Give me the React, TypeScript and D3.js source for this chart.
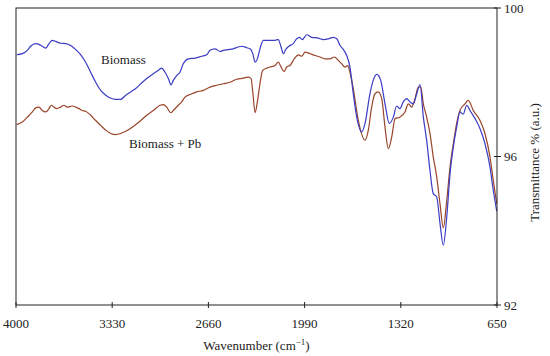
import React from "react";
import * as d3 from "d3";

// wavenumber (cm-1) and transmittance (%)
const waveBiomass = [
  3995, 3956, 3921, 3898, 3863, 3840, 3817, 3793, 3770, 3747,
  3724, 3689, 3654, 3619, 3584, 3549, 3515, 3480, 3445, 3410,
  3375, 3340, 3306, 3271, 3236, 3201, 3166, 3120, 3090, 3044,
  3009, 2985, 2962, 2939, 2920, 2904, 2881, 2858, 2835, 2800,
  2753, 2707, 2672, 2649, 2614, 2579, 2556, 2521, 2487, 2452,
  2428, 2393, 2370, 2351, 2335, 2319, 2301, 2278, 2254, 2231,
  2196, 2173, 2154, 2138, 2122, 2099, 2069, 2045, 2027, 2006,
  1975, 1941, 1895, 1860, 1825, 1790, 1766, 1743, 1720, 1697,
  1674, 1651, 1627, 1592, 1569, 1535, 1512, 1488, 1460, 1430,
  1400, 1372, 1349, 1326, 1303, 1279, 1256, 1233, 1209, 1186,
  1163, 1140, 1117, 1094, 1070, 1047, 1024, 1000, 977, 954,
  931, 908, 885, 861, 838, 803, 768, 734, 699, 676, 652,
];
const transBiomass = [
  98.74, 98.77, 98.86, 98.97, 99.04, 99.02, 98.97, 98.92, 99.04, 99.13,
  99.1, 99.05, 99.04, 98.99, 98.88, 98.74, 98.54, 98.27, 98.0, 97.78,
  97.65, 97.57, 97.54, 97.54, 97.65, 97.74, 97.83, 98.0, 98.1, 98.23,
  98.32, 98.38, 98.27, 98.1, 97.93, 98.05, 98.18, 98.27, 98.5, 98.63,
  98.65, 98.7, 98.74, 98.86, 98.9, 98.83, 98.86, 98.88, 98.9, 98.95,
  98.97, 98.93, 98.9, 98.77, 98.54, 98.63, 98.9, 99.13, 99.13, 99.13,
  99.13, 99.15, 98.95, 98.77, 98.88, 98.97, 99.04, 99.17, 99.21, 99.15,
  99.28, 99.21, 99.19, 99.15, 99.17, 99.21, 99.17, 98.99, 98.88, 98.72,
  98.41, 97.69, 97.06, 96.66, 96.89, 97.69, 98.05, 98.21, 98.05, 97.42,
  96.89, 97.06, 97.36, 97.29, 97.47, 97.56, 97.47, 97.42, 97.69, 97.94,
  97.06, 96.44, 95.63, 95.0, 94.91, 94.2, 93.61, 94.37, 95.54, 96.26,
  96.79, 97.2, 97.14, 97.38, 97.24, 97.02, 96.75, 96.35, 95.72, 95.09, 94.53,
];

const wavePb = [
  3995, 3956, 3921, 3886, 3863, 3840, 3817, 3793, 3770, 3754,
  3735, 3717, 3689, 3666, 3643, 3608, 3584, 3561, 3538, 3515,
  3480, 3445, 3410, 3375, 3340, 3306, 3271, 3236, 3190, 3143,
  3090, 3044, 2997, 2974, 2950, 2923, 2904, 2870, 2846, 2823,
  2788, 2741, 2696, 2649, 2602, 2556, 2510, 2463, 2417, 2382,
  2363, 2351, 2335, 2319, 2301, 2282, 2254, 2231, 2196, 2173,
  2154, 2133, 2115, 2092, 2062, 2034, 2010, 1987, 1952, 1918,
  1883, 1848, 1813, 1783, 1755, 1732, 1709, 1690, 1674, 1651,
  1616, 1569, 1546, 1523, 1500, 1477, 1453, 1430, 1407, 1383,
  1360, 1326, 1291, 1268, 1244, 1221, 1198, 1181, 1163, 1140,
  1117, 1094, 1070, 1047, 1024, 1000, 977, 954, 931, 908,
  873, 850, 815, 768, 734, 699, 676, 652,
];
const transPb = [
  96.86, 96.93, 97.06, 97.2, 97.31, 97.33, 97.24, 97.2, 97.29, 97.38,
  97.33, 97.29, 97.33, 97.38, 97.33, 97.36, 97.33, 97.29, 97.24, 97.22,
  97.11, 96.97, 96.84, 96.71, 96.62, 96.59, 96.62, 96.68, 96.79, 96.93,
  97.11, 97.24, 97.38, 97.4, 97.33, 97.18, 97.24, 97.38, 97.47, 97.6,
  97.67, 97.74, 97.78, 97.87, 97.92, 97.96, 98.0, 98.08, 98.11, 98.14,
  98.1, 97.74, 97.18, 97.47, 97.96, 98.32, 98.38, 98.41, 98.45, 98.54,
  98.41, 98.29, 98.41, 98.45, 98.63, 98.74, 98.7, 98.81, 98.77, 98.72,
  98.68, 98.63, 98.63, 98.68, 98.59, 98.5, 98.41, 98.45, 98.27, 97.83,
  96.97, 96.44, 96.71, 97.33, 97.69, 97.74, 97.56, 96.79, 96.21, 96.53,
  97.02, 97.06, 97.2, 97.42, 97.33, 97.56, 97.87, 97.87, 97.42, 97.06,
  96.63, 95.99, 95.45, 94.73, 94.08, 94.82, 95.72, 96.35, 96.89, 97.24,
  97.42, 97.51, 97.24, 96.97, 96.62, 95.99, 95.36, 94.73,
];

const xTicks = [4000, 3330, 2660, 1990, 1320, 650];
const yTicks = [100, 96, 92];

const width = 550;
const height = 356;
const left = 16;
const right = 497;
const top = 8;
const bottom = 305;
const font = "'Liberation Serif', 'Times New Roman', serif";

export default function App() {
  const x = d3.scaleLinear().domain([4000, 650]).range([left, right]);
  const y = d3.scaleLinear().domain([92, 100]).range([bottom, top]);

  const line = d3
    .line<number>()
    .x((d) => x(d))
    .curve(d3.curveMonotoneX);

  const path = (waves: number[], trans: number[]) =>
    d3
      .line<number>()
      .x((_, i) => x(waves[i]))
      .y((d) => y(d))
      .curve(d3.curveMonotoneX)(trans) as string;

  void line;

  return (
    <svg
      width={width}
      height={height}
      style={{ position: "absolute", left: 0, top: 0, background: "#fff" }}
      fontFamily={font}
    >
      <path d={path(wavePb, transPb)} fill="none" stroke="#9a4428" strokeWidth={1.2} />
      <path d={path(waveBiomass, transBiomass)} fill="none" stroke="#3a3cc4" strokeWidth={1.2} />

      {/* frame */}
      <rect x={left} y={top} width={right - left} height={bottom - top} fill="none" stroke="#222" strokeWidth={1} />

      {/* bottom axis */}
      {xTicks.map((t) => (
        <g key={t} transform={`translate(${x(t)},0)`}>
          <line y1={bottom - 3} y2={bottom + 3} stroke="#222" />
          <text y={328} textAnchor="middle" fontSize={13} fill="#222">
            {t}
          </text>
        </g>
      ))}
      <text x={(left + right) / 2} y={350} textAnchor="middle" fontSize={13} fill="#222">
        Wavenumber (cm
        <tspan dy={-5} fontSize={9}>−1</tspan>
        <tspan dy={5}>)</tspan>
      </text>

      {/* right axis */}
      {yTicks.map((t) => (
        <g key={t} transform={`translate(0,${y(t)})`}>
          <line x1={right - 3} x2={right + 4} stroke="#222" />
          <text x={504} dy="0.35em" fontSize={13} fill="#222">
            {t}
          </text>
        </g>
      ))}
      <text
        transform={`translate(539,${(top + bottom) / 2 + 6}) rotate(-90)`}
        textAnchor="middle"
        fontSize={13}
        fill="#222"
      >
        Transmittance % (a.u.)
      </text>

      {/* series labels */}
      <text x={101} y={64} fontSize={13} fill="#222">
        Biomass
      </text>
      <text x={129} y={148} fontSize={13} fill="#222">
        Biomass + Pb
      </text>
    </svg>
  );
}
